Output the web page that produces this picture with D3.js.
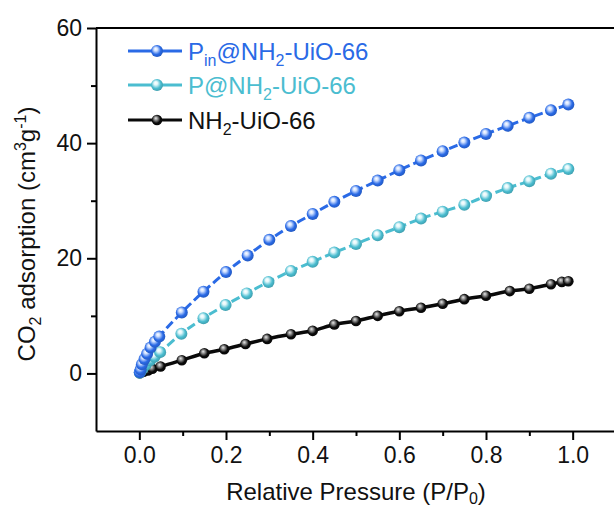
<!DOCTYPE html>
<html>
<head>
<meta charset="utf-8">
<script src="https://cdn.jsdelivr.net/npm/d3@7"></script>
<style>
  body { margin: 0; background: #fff; }
  svg { display: block; font-family: Arial, "Liberation Sans", sans-serif; }
</style>
</head>
<body>
<svg id="chart"></svg>
<script>
// ---- data ----
const pinX = [0.001, 0.003, 0.006, 0.012, 0.018, 0.026, 0.036, 0.046, 0.098, 0.148, 0.2, 0.25, 0.3, 0.35, 0.4, 0.45, 0.5, 0.55, 0.6, 0.65, 0.7, 0.75, 0.8, 0.85, 0.9, 0.95, 0.99];
const pinY = [0.2, 0.7, 1.6, 2.5, 3.4, 4.5, 5.5, 6.4, 10.6, 14.2, 17.6, 20.5, 23.2, 25.6, 27.7, 29.8, 31.7, 33.5, 35.3, 37.0, 38.6, 40.1, 41.6, 43.0, 44.4, 45.7, 46.7];

const pX = [0.001, 0.004, 0.008, 0.015, 0.025, 0.035, 0.048, 0.097, 0.148, 0.199, 0.248, 0.298, 0.35, 0.4, 0.45, 0.5, 0.55, 0.6, 0.65, 0.7, 0.75, 0.8, 0.85, 0.9, 0.95, 0.99];
const pY = [0.1, 0.5, 0.9, 1.5, 2.3, 2.9, 3.7, 6.9, 9.6, 11.9, 13.9, 15.9, 17.8, 19.4, 21.0, 22.5, 24.0, 25.4, 26.9, 28.1, 29.3, 30.8, 32.2, 33.4, 34.7, 35.5];

const nhX = [0.001, 0.005, 0.01, 0.02, 0.03, 0.049, 0.098, 0.15, 0.196, 0.245, 0.295, 0.35, 0.4, 0.45, 0.5, 0.55, 0.6, 0.65, 0.7, 0.75, 0.8, 0.855, 0.9, 0.95, 0.975, 0.99];
const nhY = [0.05, 0.2, 0.3, 0.5, 0.8, 1.2, 2.3, 3.5, 4.2, 5.1, 6.0, 6.8, 7.4, 8.5, 9.1, 10.0, 10.8, 11.4, 12.1, 12.9, 13.5, 14.3, 14.7, 15.5, 15.9, 16.0];

const xMajor = [0, 0.2, 0.4, 0.6, 0.8, 1.0];
const xMinor = [0.1, 0.3, 0.5, 0.7, 0.9];
const yMajor = [0, 20, 40, 60];
const yMinor = [10, 30, 50];

const series = [
    {id: 'pin', xs: pinX, ys: pinY, color: '#2a6ae6', light: '#cfe0ff', r: 6, dash: '9,4', sw: 3},
    {id: 'p',   xs: pX,   ys: pY,   color: '#4bbdd0', light: '#e2f7fa', r: 6, dash: '9,4', sw: 3},
    {id: 'nh',  xs: nhX,  ys: nhY,  color: '#0a0a0a', light: '#9a9a9a', r: 5.3, dash: null, sw: 3.5}
];

const W = 614, H = 508;
const svg = d3.select('#chart').attr('width', W).attr('height', H);

const xScale = d3.scaleLinear().domain([-0.1, 1.1]).range([96, 616]);
const yScale = d3.scaleLinear().domain([-10, 60]).range([431, 28]);

// sphere-like marker gradients
const defs = svg.append('defs');
series.forEach(s => {
    const g = defs.append('radialGradient')
        .attr('id', 'grad-' + s.id)
        .attr('cx', '45%').attr('cy', '45%').attr('r', '60%')
        .attr('fx', '38%').attr('fy', '32%');
    g.append('stop').attr('offset', '0%').attr('stop-color', s.id === 'nh' ? '#e8e8e8' : '#ffffff');
    g.append('stop').attr('offset', '25%').attr('stop-color', s.light);
    g.append('stop').attr('offset', '65%').attr('stop-color', s.color);
    g.append('stop').attr('offset', '100%').attr('stop-color', d3.color(s.color).darker(0.6));
});

// frame top edge
svg.append('line')
    .attr('x1', 96).attr('x2', 620).attr('y1', 28).attr('y2', 28)
    .attr('stroke', '#000').attr('stroke-width', 2);

// axes
svg.append('g')
    .attr('transform', 'translate(96,0)')
    .call(d3.axisLeft(yScale).tickValues(yMajor).tickSize(9).tickSizeOuter(0).tickPadding(5));
svg.append('g')
    .attr('transform', 'translate(96,0)')
    .call(d3.axisLeft(yScale).tickValues(yMinor).tickSize(5).tickSizeOuter(0).tickFormat(''))
    .select('.domain').remove();

svg.append('g')
    .attr('transform', 'translate(0,431)')
    .call(d3.axisBottom(xScale).tickValues(xMajor).tickSize(9).tickSizeOuter(0).tickPadding(7)
        .tickFormat(d3.format('.1f')));
svg.append('g')
    .attr('transform', 'translate(0,431)')
    .call(d3.axisBottom(xScale).tickValues(xMinor).tickSize(5).tickSizeOuter(0).tickFormat(''))
    .select('.domain').remove();

svg.selectAll('.domain, .tick line').attr('stroke', '#000').attr('stroke-width', 2);
svg.selectAll('.tick text').attr('font-size', 23).attr('fill', '#111')
    .attr('font-family', 'Arial, "Liberation Sans", sans-serif');

// axis titles
const xt = svg.append('text')
    .attr('x', 356).attr('y', 500)
    .attr('text-anchor', 'middle')
    .attr('font-size', 24).attr('fill', '#111');
xt.append('tspan').text('Relative Pressure (P/P');
xt.append('tspan').text('0').attr('font-size', 16).attr('dy', 4);
xt.append('tspan').text(')').attr('dy', -4);

const yt = svg.append('text')
    .attr('transform', 'translate(35,234) rotate(-90)')
    .attr('text-anchor', 'middle')
    .attr('font-size', 24).attr('fill', '#111');
yt.append('tspan').text('CO');
yt.append('tspan').text('2').attr('font-size', 16).attr('dy', 6);
yt.append('tspan').text(' adsorption (cm').attr('dy', -6);
yt.append('tspan').text('3').attr('font-size', 16).attr('dy', -9);
yt.append('tspan').text('g').attr('dy', 9);
yt.append('tspan').text('-1').attr('font-size', 16).attr('dy', -9);
yt.append('tspan').text(')').attr('dy', 9);

// lines + markers
const line = d3.line()
    .x(d => xScale(d[0]))
    .y(d => yScale(d[1]))
    .curve(d3.curveMonotoneX);

series.slice().reverse().forEach(s => {
    const pts = s.xs.map((x, i) => [x, s.ys[i]]);
    svg.append('path')
        .datum(pts)
        .attr('d', line)
        .attr('fill', 'none')
        .attr('stroke', s.color)
        .attr('stroke-width', s.sw)
        .attr('stroke-dasharray', s.dash);
    svg.append('g').selectAll('circle').data(pts)
        .enter().append('circle')
            .attr('cx', d => xScale(d[0]))
            .attr('cy', d => yScale(d[1]))
            .attr('r', s.r)
            .attr('fill', `url(#grad-${s.id})`);
});

// legend
const legendRows = [
    {s: series[0], y: 51, parts: [['P', 0], ['in', 1], ['@NH', 0], ['2', 1], ['-UiO-66', 0]]},
    {s: series[1], y: 85, parts: [['P@NH', 0], ['2', 1], ['-UiO-66', 0]]},
    {s: series[2], y: 120, parts: [['NH', 0], ['2', 1], ['-UiO-66', 0]]}
];
legendRows.forEach(row => {
    const lg = svg.append('g');
    lg.append('line')
        .attr('x1', 128).attr('x2', 182).attr('y1', row.y).attr('y2', row.y)
        .attr('stroke', row.s.color).attr('stroke-width', 3);
    lg.append('circle')
        .attr('cx', 157).attr('cy', row.y).attr('r', row.s.r)
        .attr('fill', `url(#grad-${row.s.id})`);
    const t = lg.append('text')
        .attr('x', 188).attr('y', row.y + 8.5)
        .attr('font-size', 24)
        .attr('fill', row.s.id === 'nh' ? '#111' : row.s.color);
    let sub = 0;
    row.parts.forEach(([str, isSub]) => {
        const dy = (isSub ? 6 : 0) - sub;
        sub = isSub ? 6 : 0;
        t.append('tspan').text(str)
            .attr('font-size', isSub ? 16 : 24)
            .attr('dy', dy);
    });
});
</script>
</body>
</html>
